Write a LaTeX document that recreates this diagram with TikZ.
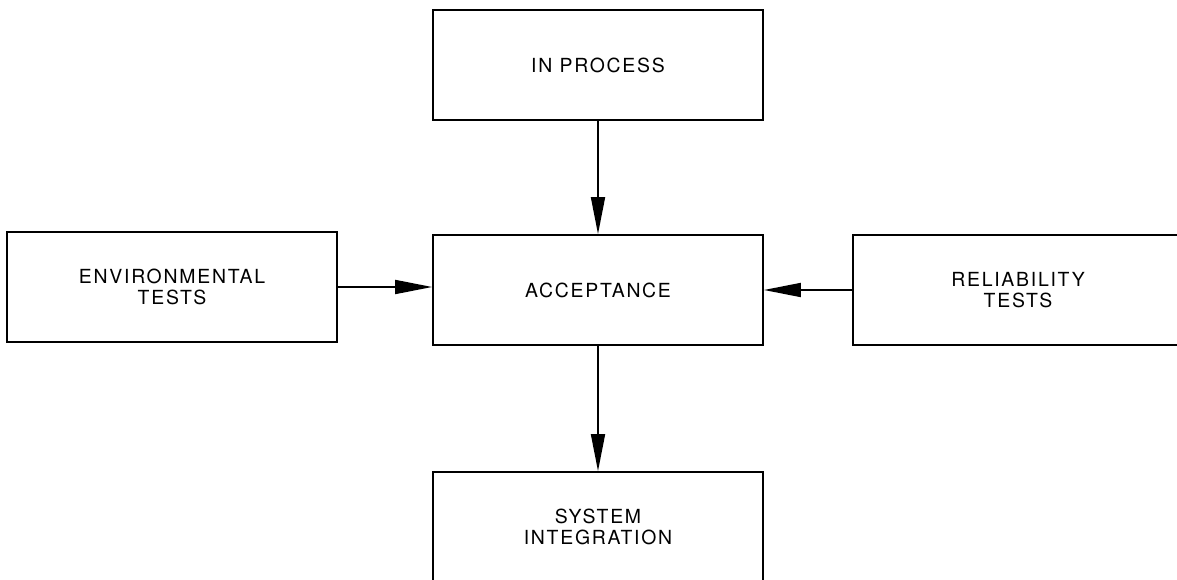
\documentclass[tikz,border=0pt]{standalone}
\usepackage{fontspec}
\setmainfont{TeX Gyre Heros}[LetterSpace=9]
\usetikzlibrary{arrows.meta}
\tikzset{
  blk/.style={rectangle,draw=black,line width=1.8bp,minimum width=330bp,minimum height=110bp,inner sep=0pt,align=center,font=\fontsize{19.5}{21}\selectfont},
  flow/.style={-{Triangle[length=37bp,width=14bp]},line width=1.8bp,black},
}
\begin{document}
\begin{tikzpicture}[x=1bp,y=-1bp]
  \clip (0,0) rectangle (1177,580);
  \node[blk](inproc) at (598,65){IN PROCESS};
  \node[blk](accept) at (598,290){ACCEPTANCE};
  \node[blk](envtest) at (172,287){ENVIRONMENTAL\\TESTS};
  \node[blk](reltest) at (1018,290){RELIABILITY\\TESTS};
  \node[blk](sysint) at (598,527){SYSTEM\\INTEGRATION};
  \draw[flow] (inproc)--(accept);
  \draw[flow] (envtest.east)--(envtest.east-|accept.west);
  \draw[flow] (reltest.west)--(reltest.west-|accept.east);
  \draw[flow] (accept)--(sysint);
\end{tikzpicture}
\end{document}
